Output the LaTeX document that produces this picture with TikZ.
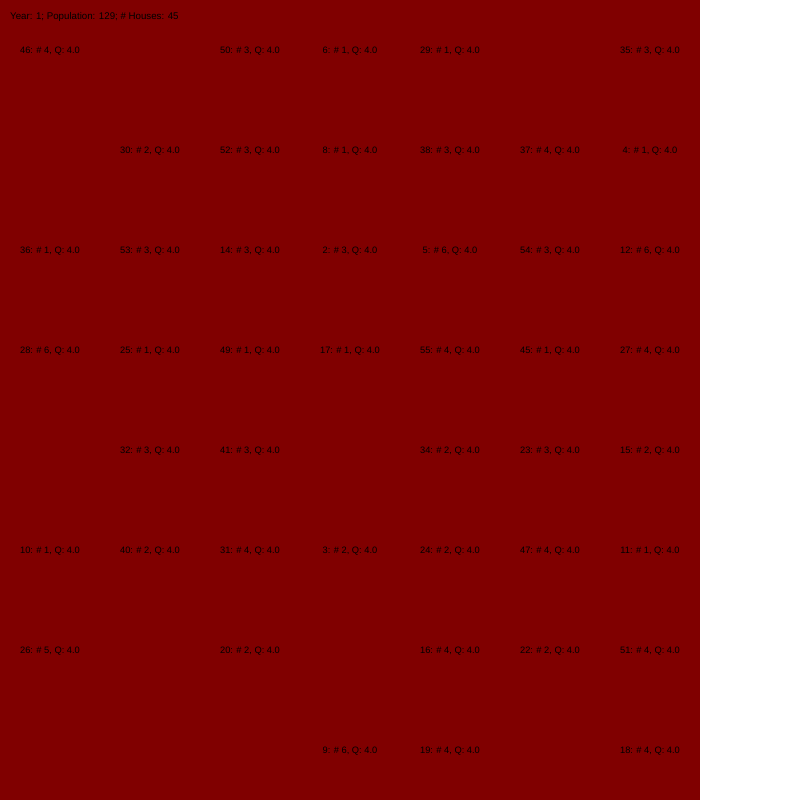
\documentclass[tikz,border=0pt]{standalone}
\usepackage{fontspec}
\setmainfont{Liberation Sans}
\usepackage{tikz}
\usetikzlibrary{positioning}
\definecolor{townred}{RGB}{128,0,0}

\begin{document}
\begin{tikzpicture}[
  x=1pt, y=-1pt,
  every node/.style={font=\fontsize{9.3}{10}\selectfont, inner sep=0pt},
  house/.style={anchor=center},
  info/.style={anchor=west, font=\fontsize{9.7}{11}\selectfont}
]
\useasboundingbox (0,0) rectangle (800,800);
% town area
\fill[townred] (0,0) rectangle (700,800);
\node[info] (info) at (10,16.5) {Year: 1; Population: 129; \# Houses: 45};

% houses: column/row/id/people
\foreach \c/\r/\id/\n in {0/0/46/4, 2/0/50/3, 3/0/6/1, 4/0/29/1, 6/0/35/3,
    1/1/30/2, 2/1/52/3, 3/1/8/1, 4/1/38/3, 5/1/37/4, 6/1/4/1,
    0/2/36/1, 1/2/53/3, 2/2/14/3, 3/2/2/3, 4/2/5/6, 5/2/54/3, 6/2/12/6,
    0/3/28/6, 1/3/25/1, 2/3/49/1, 3/3/17/1, 4/3/55/4, 5/3/45/1, 6/3/27/4,
    1/4/32/3, 2/4/41/3, 4/4/34/2, 5/4/23/3, 6/4/15/2,
    0/5/10/1, 1/5/40/2, 2/5/31/4, 3/5/3/2, 4/5/24/2, 5/5/47/4, 6/5/11/1,
    0/6/26/5, 2/6/20/2, 4/6/16/4, 5/6/22/2, 6/6/51/4,
    3/7/9/6, 4/7/19/4, 6/7/18/4}
  \node[house] (h\id) at (50+100*\c, 51.5+100*\r) {\id: \# \n, Q: 4.0};
\end{tikzpicture}
\end{document}
